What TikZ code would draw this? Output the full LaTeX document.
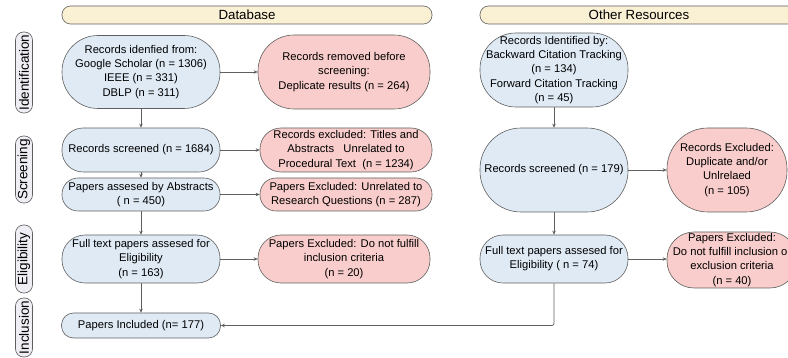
\documentclass[tikz,border=0pt]{standalone}
\usepackage{fontspec}
\setmainfont{Liberation Sans}
\usetikzlibrary{arrows.meta}
\definecolor{bfill}{HTML}{DFEAF5}
\definecolor{pfill}{HTML}{F8CDCB}
\definecolor{hfill}{HTML}{FAF0D4}
\definecolor{sfill}{HTML}{EEEEF4}
\definecolor{lgray}{HTML}{5F5F5F}
\tikzset{
  base/.style={draw=lgray, line width=0.6pt, align=center, inner sep=0pt,
    font=\fontsize{11.2}{14.2}\selectfont},
  bluebox/.style={base, fill=bfill},
  pinkbox/.style={base, fill=pfill},
  header/.style={draw=lgray, fill=hfill, line width=0.6pt, inner sep=0pt,
    font=\fontsize{13.3}{15}\selectfont, minimum height=18pt, rounded corners=8.5pt},
  phase/.style={draw=lgray, fill=sfill, line width=0.6pt, inner sep=0pt,
    font=\fontsize{13.5}{15}\selectfont, minimum height=17pt, rotate=90, rounded corners=8pt},
  arr/.style={draw=lgray, line width=0.7pt, -{Stealth[length=4pt,width=3.5pt]}},
}
\begin{document}
\begin{tikzpicture}[x=1pt,y=-1pt]
\useasboundingbox (0,0) rectangle (788,358);
\clip (0,0) rectangle (788,358);

% headers
\node[header, minimum width=370pt] (hdb) at (247,15) {Database};
\node[header, minimum width=318pt] (hor) at (639,15) {Other Resources};

% phases
\node[phase, minimum width=81pt] (pid) at (24,72.5) {Identification};
\node[phase, minimum width=67pt] (psc) at (24,169.5) {Screening};
\node[phase, minimum width=68pt] (pel) at (24,259) {Eligibility};
\node[phase, minimum width=59pt] (pin) at (24,327.5) {Inclusion};

% database column
\node[bluebox, minimum width=158pt, minimum height=73pt, rounded corners=36pt] (A1) at (141,72)
  {Records idenfied from:\\Google Scholar (n = 1306)\\IEEE (n = 331)\\DBLP (n = 311)};
\node[pinkbox, minimum width=172pt, minimum height=74pt, rounded corners=36pt] (R1) at (344,72)
  {Records removed before\\screening:\\Deplicate results (n = 264)};
\node[bluebox, minimum width=158pt, minimum height=44pt, rounded corners=21pt] (A2) at (141,150)
  {Records screened (n = 1684)};
\node[pinkbox, minimum width=172pt, minimum height=44pt, rounded corners=21pt] (R2) at (346,150)
  {Records excluded: Titles and\\Abstracts\ \ \ Unrelated to\\Procedural Text\ \ (n = 1234)};
\node[bluebox, minimum width=158pt, minimum height=33pt, rounded corners=16pt] (A3) at (141,194.5)
  {Papers assesed by Abstracts\\( n = 450)};
\node[pinkbox, minimum width=172pt, minimum height=33pt, rounded corners=16pt] (R3) at (346,194.5)
  {Papers Excluded: Unrelated to\\Research Questions (n = 287)};
\node[bluebox, minimum width=158pt, minimum height=48pt, rounded corners=23pt] (A4) at (141,259)
  {Full text papers assesed for\\Eligibility\\(n = 163)};
\node[pinkbox, minimum width=172pt, minimum height=48pt, rounded corners=23pt] (R4) at (344,259)
  {Papers Excluded: Do not fulfill\\inclusion criteria\\(n = 20)};
\node[bluebox, minimum width=159pt, minimum height=25pt, rounded corners=12pt] (A5) at (141,325.5)
  {Papers Included (n= 177)};

% other resources column
\node[bluebox, minimum width=148pt, minimum height=74pt, rounded corners=36pt] (B1) at (554,70)
  {Records Identified by:\\Backward Citation Tracking\\(n = 134)\\Forward Citation Tracking\\(n = 45)};
\node[bluebox, minimum width=148pt, minimum height=84pt, rounded corners=41pt] (B2) at (554,170)
  {Records screened (n = 179)};
\node[pinkbox, minimum width=120pt, minimum height=84pt, rounded corners=41pt] (X2) at (727,170)
  {Records Excluded:\\Duplicate and/or\\Unlrelaed\\(n = 105)};
\node[bluebox, minimum width=148pt, minimum height=48pt, rounded corners=23pt] (B3) at (554,259)
  {Full text papers assesed for\\Eligibility ( n = 74)};
\node[pinkbox, minimum width=130pt, minimum height=56pt, rounded corners=27pt] (X3) at (732,260)
  {Papers Excluded:\\Do not fulfill inclusion or\\exclusion criteria\\(n = 40)};

% connectors
\draw[arr] (A1) -- (A2);
\draw[arr] (A2) -- (A3);
\draw[arr] (A3) -- (A4);
\draw[arr] (A4) -- (A5);
\draw[arr] (A1) -- (R1);
\draw[arr] (A2.east) -- (A2.east -| R2.west);
\draw[arr] (A3.east) -- (A3.east -| R3.west);
\draw[arr] (A4.east) -- (A4.east -| R4.west);
\draw[arr] (B1) -- (B2);
\draw[arr] (B2) -- (B3);
\draw[arr] (B2) -- (X2);
\draw[arr] (B3.east) -- (B3.east -| X3.west);
\draw[arr, rounded corners=2pt] (B3.south) |- (A5.east);
\end{tikzpicture}
\end{document}
